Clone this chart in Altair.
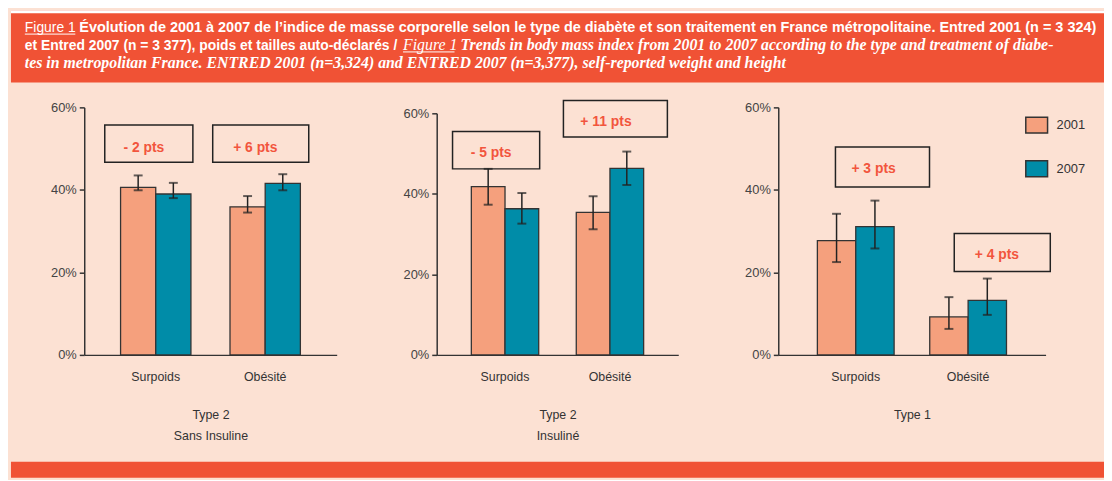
import altair as alt
import pandas as pd

# ---------------- data ----------------
categories = ["Surpoids", "Obésité"]
years = ["2001", "2007"]

# order: Surpoids 2001, Surpoids 2007, Obésité 2001, Obésité 2007 (in %)
p1_values = [40.6, 39.0, 35.9, 41.6]
p1_low = [39.9, 38.0, 34.5, 39.9]
p1_high = [43.5, 41.7, 38.5, 43.8]

p2_values = [41.8, 36.3, 35.4, 46.3]
p2_low = [37.3, 32.6, 31.2, 42.2]
p2_high = [46.2, 40.2, 39.4, 50.5]

p3_values = [27.7, 31.1, 9.2, 13.2]
p3_low = [22.5, 25.8, 6.3, 9.7]
p3_high = [34.2, 37.4, 14.0, 18.5]

panel_titles = [["Type 2", "Sans Insuline"], ["Type 2", "Insuliné"], ["Type 1"]]
diff_labels = [["- 2 pts", "+ 6 pts"], ["- 5 pts", "+ 11 pts"], ["+ 3 pts", "+ 4 pts"]]
box_top = [[55.7, 55.7], [55.5, 63.2], [50.4, 29.4]]
box_bottom = [[46.7, 46.7], [46.2, 54.1], [40.7, 20.2]]
label_y = [[50.2, 50.2], [50.1, 57.8], [45.0, 24.1]]
y_ticks = [0, 20, 40, 60]

header_fig = "Figure 1"
header_l1 = ("Évolution de 2001 à 2007 de l’indice de masse corporelle selon le type de diabète "
             "et son traitement en France métropolitaine. Entred 2001 (n = 3 324)")
header_l2a = "et Entred 2007 (n = 3 377), poids et tailles auto-déclarés /"
header_l2b = "Trends in body mass index from 2001 to 2007 according to the type and treatment of diabe-"
header_l3 = ("tes in metropolitan France. ENTRED 2001 (n=3,324) and ENTRED 2007 (n=3,377), "
             "self-reported weight and height")

# ---------------- styles ----------------
SALMON = "#F5A07D"
TEAL = "#008CA8"
PEACH = "#FCE1D3"
ORANGE = "#F05235"
RED = "#F2553D"
INK = "#333333"
FONT = "Liberation Sans"
IFONT = "Liberation Serif"
H = 250
TOTAL_W = 1104

# layout of each panel: width, paddingInner, paddingOuter, top of range, annotation (box dx, box width, text dx)
layout = [
    dict(width=255, pin=0.357, pout=0.332, top=0, ann=[(-7, 89, -12), (-4.5, 97, -10)]),
    dict(width=244, pin=0.358, pout=0.33, top=6, ann=[(-9, 88, -14), (5.5, 105, -4)]),
    dict(width=270, pin=0.317, pout=0.348, top=0, ann=[(27, 95, 18), (34.5, 97, 29)]),
]


def make_panel(i, vals, lo, hi, legend):
    L = layout[i]
    df = pd.DataFrame({
        "cat": [c for c in categories for _ in years],
        "year": years * 2,
        "value": vals,
        "low": lo,
        "high": hi,
    })
    x_enc = alt.X(
        "cat:N", sort=categories,
        scale=alt.Scale(paddingInner=L["pin"], paddingOuter=L["pout"]),
        axis=alt.Axis(
            title=panel_titles[i], labelAngle=0, ticks=False, tickSize=0, labelPadding=16,
            domainColor=INK, domainWidth=1.5, labelFont=FONT, labelFontSize=12.5,
            labelColor=INK, titleFont=FONT, titleFontSize=12.5, titleFontWeight="normal",
            titleColor=INK, titlePadding=26, titleLineHeight=21,
        ),
    )
    if L["top"]:
        yscale = alt.Scale(domain=[0, 60], nice=False, range=[H, L["top"]])
    else:
        yscale = alt.Scale(domain=[0, 60], nice=False)
    y_enc = alt.Y(
        "value:Q", scale=yscale,
        axis=alt.Axis(
            values=y_ticks, labelExpr="datum.value + '%'", title=None, grid=False,
            tickSize=5, tickColor=INK, tickWidth=1.5, domainColor=INK, domainWidth=1.5,
            labelPadding=3, labelFont=FONT, labelFontSize=13, labelColor="#444444",
        ),
    )
    xo = alt.XOffset("year:N", sort=years, scale=alt.Scale(paddingInner=0, paddingOuter=0))
    color = alt.Color("year:N", scale=alt.Scale(domain=years, range=[SALMON, TEAL]), legend=legend)

    base = alt.Chart(df)
    bars = base.mark_bar(stroke=INK, strokeWidth=1.3).encode(x=x_enc, xOffset=xo, y=y_enc, color=color)
    rules = base.mark_rule(color="#222222", strokeWidth=1.5).encode(
        x=x_enc, xOffset=xo, y=alt.Y("low:Q", title=None), y2="high:Q")
    cap_hi = base.mark_tick(color="#222222", size=9, thickness=2).encode(
        x=x_enc, xOffset=xo, y=alt.Y("high:Q", title=None))
    cap_lo = base.mark_tick(color="#222222", size=9, thickness=2).encode(
        x=x_enc, xOffset=xo, y=alt.Y("low:Q", title=None))

    layers = [bars, rules, cap_hi, cap_lo]
    for j in range(2):
        bdx, bw, tdx = L["ann"][j]
        adf = pd.DataFrame({
            "cat": [categories[j]],
            "top": [box_top[i][j]],
            "bottom": [box_bottom[i][j]],
            "ly": [label_y[i][j]],
            "label": [diff_labels[i][j]],
        })
        box = alt.Chart(adf).mark_bar(
            width=bw, xOffset=bdx, fillOpacity=0, stroke="#222222", strokeWidth=1.5
        ).encode(x=x_enc, y=alt.Y("top:Q", title=None), y2="bottom:Q")
        txt = alt.Chart(adf).mark_text(
            dx=tdx, font=FONT, fontSize=14, fontWeight="bold", color=RED,
            align="center", baseline="middle"
        ).encode(x=x_enc, y=alt.Y("ly:Q", title=None), text="label:N")
        layers += [box, txt]
    return alt.layer(*layers).properties(width=L["width"], height=H)


legend3 = alt.Legend(
    orient="none", legendX=252, legendY=9, title=None,
    symbolType="M-1.375,-1H1.375V1H-1.375Z", symbolSize=256,
    symbolStrokeColor=INK, symbolStrokeWidth=1.5, symbolOpacity=1, rowPadding=22,
    labelFont=FONT, labelFontSize=13, labelColor=INK, labelOffset=11,
)

p1 = make_panel(0, p1_values, p1_low, p1_high, None)
p2 = make_panel(1, p2_values, p2_low, p2_high, None)
p3 = make_panel(2, p3_values, p3_low, p3_high, legend3)

inner = alt.hconcat(p1, p2, p3, spacing=66).resolve_scale(
    x="independent", y="independent", color="independent", xOffset="independent")

one = pd.DataFrame({"a": [0]})
spacer = alt.Chart(one).mark_point(opacity=0).encode(
    x=alt.value(0), y=alt.value(0)).properties(width=39, height=10)
middle = alt.hconcat(spacer, inner, spacing=0)

# header band
strip = alt.Chart(one).mark_rect(color="white").encode(
    x=alt.value(0), x2=alt.value(TOTAL_W), y=alt.value(0), y2=alt.value(3))
h1a = alt.Chart(one).mark_text(text=header_fig, font=FONT, fontSize=14, color="white",
                               align="left", baseline="alphabetic", clip=True).encode(
    x=alt.value(14), y=alt.value(22))
h1b = alt.Chart(one).mark_text(text=header_l1, font=FONT, fontSize=14.6, fontWeight="bold", color="white",
                               align="left", baseline="alphabetic", clip=True).encode(
    x=alt.value(69), y=alt.value(22))
h2a = alt.Chart(one).mark_text(text=header_l2a, font=FONT, fontSize=14, fontWeight="bold", color="white",
                               align="left", baseline="alphabetic", clip=True).encode(
    x=alt.value(14), y=alt.value(40))
h2b = alt.Chart(one).mark_text(text=header_fig, font=IFONT, fontSize=16, fontStyle="italic", color="white",
                               align="left", baseline="alphabetic", clip=True).encode(
    x=alt.value(396), y=alt.value(40))
h2c = alt.Chart(one).mark_text(text=header_l2b, font=IFONT, fontSize=16, fontStyle="italic",
                               fontWeight="bold", color="white",
                               align="left", baseline="alphabetic", clip=True).encode(
    x=alt.value(454), y=alt.value(40))
h3 = alt.Chart(one).mark_text(text=header_l3, font=IFONT, fontSize=16, fontStyle="italic",
                              fontWeight="bold", color="white",
                              align="left", baseline="alphabetic", clip=True).encode(
    x=alt.value(14), y=alt.value(58))
u1 = alt.Chart(one).mark_rule(color="white", strokeWidth=1).encode(
    x=alt.value(14), x2=alt.value(65), y=alt.value(24))
u2 = alt.Chart(one).mark_rule(color="white", strokeWidth=1).encode(
    x=alt.value(396), x2=alt.value(448), y=alt.value(42))

header = alt.layer(strip, h1a, h1b, h2a, h2b, h2c, h3, u1, u2).properties(
    width=TOTAL_W, height=73, view=alt.ViewBackground(fill=ORANGE, strokeWidth=0))

footer = alt.Chart(one).mark_point(opacity=0).encode(
    x=alt.value(0), y=alt.value(0)).properties(
    width=TOTAL_W, height=16, view=alt.ViewBackground(fill=ORANGE, strokeWidth=0))

lower = alt.vconcat(middle, footer, spacing=17)

chart = alt.vconcat(header, lower, spacing=17).properties(
    background=PEACH, padding=0).configure_view(strokeWidth=0)

chart.save("out.html", embed_options={"renderer": "svg", "actions": False})
